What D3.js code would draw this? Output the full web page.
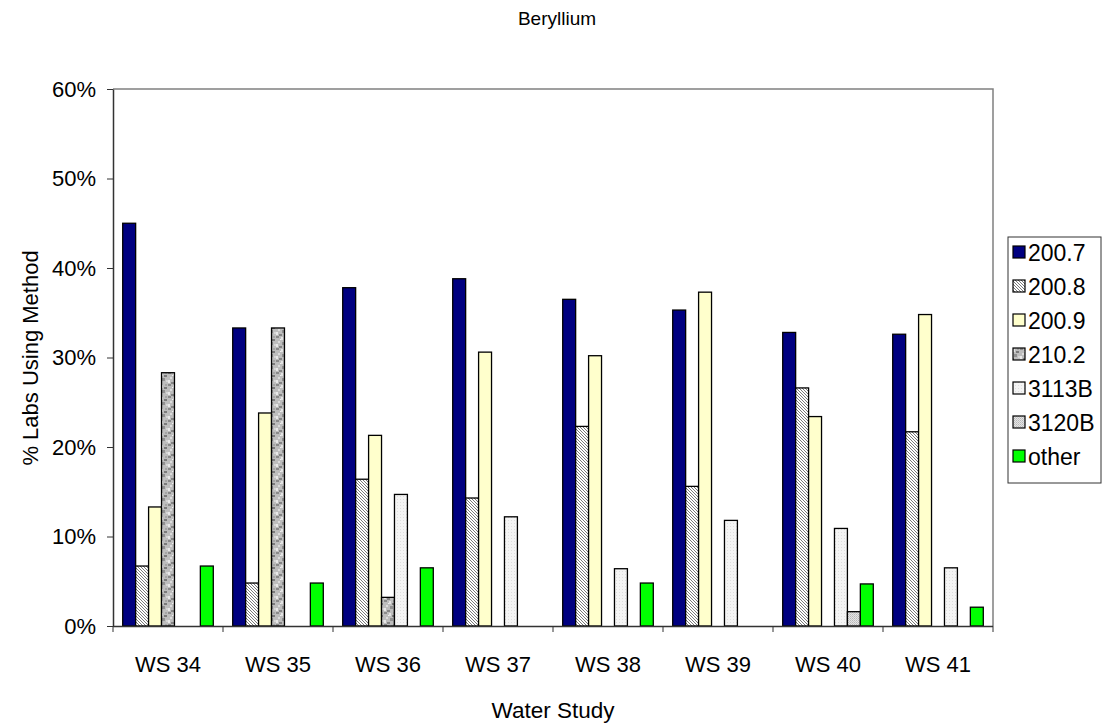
<!DOCTYPE html>
<html><head><meta charset="utf-8">
<script src="https://cdn.jsdelivr.net/npm/d3@7"></script>
<style>body{margin:0;background:#fff;} svg{display:block;font-family:"Liberation Sans",Arial,sans-serif;}</style>
</head><body>
<svg id="c" width="1107" height="725"></svg>
<script>
const categories = ["WS 34","WS 35","WS 36","WS 37","WS 38","WS 39","WS 40","WS 41"];
const seriesNames = ["200.7","200.8","200.9","210.2","3113B","3120B","other"];
const s2007  = [45.0, 33.3, 37.8, 38.8, 36.5, 35.3, 32.8, 32.6];
const s2008  = [6.7, 4.8, 16.4, 14.3, 22.3, 15.6, 26.6, 21.7];
const s2009  = [13.3, 23.8, 21.3, 30.6, 30.2, 37.3, 23.4, 34.8];
const s2102  = [28.3, 33.3, 3.2, 0, 0, 0, 0, 0];
const s3113B = [0, 0, 14.7, 12.2, 6.4, 11.8, 10.9, 6.5];
const s3120B = [0, 0, 0, 0, 0, 0, 1.6, 0];
const sOther = [6.7, 4.8, 6.5, 0, 4.8, 0, 4.7, 2.1];
const yTicks = [0, 10, 20, 30, 40, 50, 60];
const seriesValues = [s2007, s2008, s2009, s2102, s3113B, s3120B, sOther];

const svg = d3.select("#c");
const L = 113, R = 993, T = 89, B = 626;
const FF = "Liberation Sans, Arial, sans-serif";

// patterns
const defs = svg.append("defs");
const p1 = defs.append("pattern").attr("id","p2008").attr("patternUnits","userSpaceOnUse").attr("width",3).attr("height",3);
p1.append("rect").attr("width",3).attr("height",3).attr("fill","#ffffff");
p1.append("path").attr("d","M-1,-1 L4,4 M-1,2 L1,4 M2,-1 L4,1").attr("stroke","#7a7a7a").attr("stroke-width",1);

const p2 = defs.append("pattern").attr("id","p2102").attr("patternUnits","userSpaceOnUse").attr("width",12).attr("height",12);
p2.append("rect").attr("width",12).attr("height",12).attr("fill","#bdbdbd");
const blot = [[0,0,3,2,"#8a8a8a"],[5,1,2,3,"#e2e2e2"],[8,3,3,2,"#7a7a7a"],[2,5,2,2,"#dcdcdc"],[6,6,3,3,"#909090"],[0,8,2,3,"#e8e8e8"],[10,8,2,2,"#d5d5d5"],[3,10,3,2,"#858585"],[9,0,2,2,"#a5a5a5"],[4,3,1,1,"#f0f0f0"]];
blot.forEach(b=>p2.append("rect").attr("x",b[0]).attr("y",b[1]).attr("width",b[2]).attr("height",b[3]).attr("fill",b[4]));

const p3 = defs.append("pattern").attr("id","p3113").attr("patternUnits","userSpaceOnUse").attr("width",3).attr("height",3);
p3.append("rect").attr("width",3).attr("height",3).attr("fill","#f4f4f4");
p3.append("rect").attr("x",1).attr("y",1).attr("width",1).attr("height",1).attr("fill","#dedede");

const p4 = defs.append("pattern").attr("id","p3120").attr("patternUnits","userSpaceOnUse").attr("width",2).attr("height",2);
p4.append("rect").attr("width",2).attr("height",2).attr("fill","#e4e4e4");
p4.append("rect").attr("width",1).attr("height",1).attr("fill","#b8b8b8");
p4.append("rect").attr("x",1).attr("y",1).attr("width",1).attr("height",1).attr("fill","#c8c8c8");

const fills = ["#000080","url(#p2008)","#ffffcc","url(#p2102)","url(#p3113)","url(#p3120)","#00ff00"];

const x = d3.scaleBand().domain(categories).range([L, R]).paddingInner(0).paddingOuter(0);
const xs = d3.scaleBand().domain(seriesNames).range([0, x.bandwidth()]).paddingInner(0).paddingOuter(0.75);
const y = d3.scaleLinear().domain([0, 60]).range([B, T]);

// plot frame (top & right)
svg.append("path").attr("d",`M${L},${T}H${R}V${B}`).attr("fill","none").attr("stroke","#808080").attr("stroke-width",1.5);

// bars
seriesNames.forEach((s, si) => {
  svg.append("g").selectAll("rect").data(categories.map((c,i)=>({c, v: seriesValues[si][i]})).filter(d=>d.v>0))
    .join("rect")
    .attr("x", d => x(d.c) + xs(s))
    .attr("y", d => y(d.v))
    .attr("width", xs.bandwidth())
    .attr("height", d => y(0) - y(d.v))
    .attr("fill", fills[si])
    .attr("stroke", "#000").attr("stroke-width", 1.3);
});

// y axis
const yAxis = d3.axisLeft(y).tickValues(yTicks).tickFormat(d => d + "%").tickSize(6).tickSizeOuter(0);
const gy = svg.append("g").attr("transform",`translate(${L},0)`).call(yAxis);
gy.attr("font-size",null).attr("font-family",null);
gy.select(".domain").attr("stroke","#333").attr("stroke-width",1.5);
gy.selectAll(".tick line").attr("stroke","#333");
gy.selectAll("text").style("font-size","22px").attr("fill","#000").attr("x",-17).attr("font-family",FF);

// x axis
const xAxis = d3.axisBottom(x).tickSize(0).tickSizeOuter(0);
const gx = svg.append("g").attr("transform",`translate(0,${B})`).call(xAxis);
gx.attr("font-size",null).attr("font-family",null);
gx.select(".domain").attr("stroke","#333").attr("stroke-width",1.5).attr("d",`M${L},0.5H${R}`);
gx.selectAll("text").style("font-size","22px").attr("fill","#000").attr("dy",0).attr("y",46).attr("font-family",FF);
// category separator ticks
svg.append("g").selectAll("line").data(categories.concat(["__end"]))
  .join("line")
  .attr("x1", (d,i) => L + i * x.step()).attr("x2", (d,i) => L + i * x.step())
  .attr("y1", B).attr("y2", B + 6).attr("stroke","#333").attr("stroke-width",1);

// titles
svg.append("text").attr("x", 557).attr("y", 25).attr("text-anchor","middle").style("font-size","19px").text("Beryllium");
svg.append("text").attr("x", 553).attr("y", 718).attr("text-anchor","middle").style("font-size","22.5px").text("Water Study");
svg.append("text").attr("transform","translate(38,358) rotate(-90)").attr("text-anchor","middle").style("font-size","22px").text("% Labs Using Method");

// legend
const lg = svg.append("g");
lg.append("rect").attr("x",1008).attr("y",237).attr("width",93).attr("height",246).attr("fill","#fff").attr("stroke","#333").attr("stroke-width",1);
seriesNames.forEach((s, i) => {
  const cy = 253 + i * 34;
  lg.append("rect").attr("x",1013).attr("y",cy-7).attr("width",12).attr("height",12).attr("fill",fills[i]).attr("stroke","#000").attr("stroke-width",1.2);
  lg.append("text").attr("x",1028).attr("y",cy+8).style("font-size","23px").text(s);
});
</script>
</body></html>
